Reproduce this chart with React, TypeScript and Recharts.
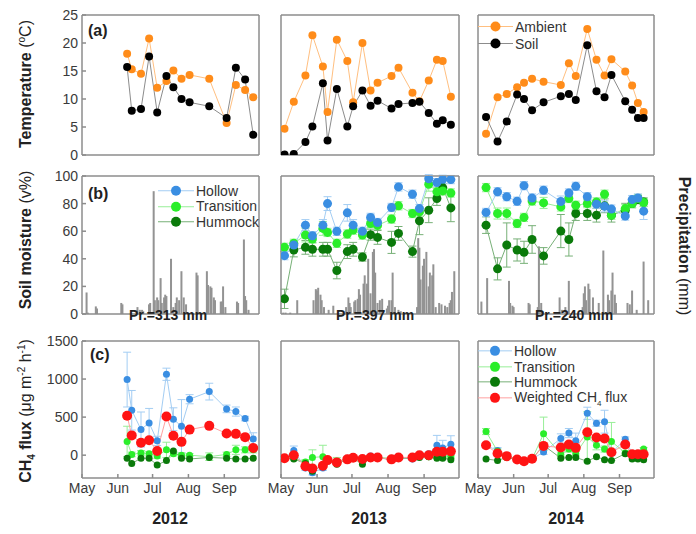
import React from 'react'
import { ComposedChart, Line, Bar, XAxis, YAxis, ErrorBar, Legend } from 'recharts'

const FONT = '"Liberation Sans", Arial, Helvetica, sans-serif'

// x values are days counted from 1 May
const monthTicks = [0, 31, 61, 92, 123]
const monthLabels = ['May', 'Jun', 'Jul', 'Aug', 'Sep']

const days2012 = [39, 43, 51, 58, 65, 73, 79, 86, 93, 110, 125, 133, 141, 148]
const days2013 = [3, 11, 21, 27, 36, 40, 48, 57, 62, 70, 77, 83, 95, 101, 113, 119, 127, 134, 139, 146]
const days2014 = [7, 17, 25, 34, 40, 47, 57, 72, 79, 85, 95, 103, 110, 116, 128, 134, 139, 144]

// (a) temperature
const ambient2012 = [18.1, 15.3, 14.5, 20.8, 12.0, 13.2, 15.1, 13.6, 14.3, 13.6, 5.7, 12.5, 11.6, 10.3]
const soil2012 = [15.7, 7.9, 8.2, 17.6, 7.6, 14.1, 12.1, 10.0, 9.4, 8.7, 6.6, 15.6, 13.5, 3.6]
const ambient2013 = [4.7, 9.5, 14.2, 21.4, 15.8, 7.7, 20.6, 16.8, 9.4, 20.0, 11.5, 12.9, 14.1, 15.6, 11.1, 9.6, 13.3, 17.0, 16.8, 10.4]
const soil2013 = [0.1, 0.2, 2.3, 5.1, 12.8, 2.6, 11.8, 5.1, 8.7, 11.5, 8.8, 9.7, 8.3, 9.1, 9.3, 9.5, 7.5, 5.6, 6.2, 5.4]
const ambient2014 = [3.8, 10.3, 10.9, 12.1, 12.9, 13.6, 13.1, 12.5, 16.4, 14.1, 22.5, 17.0, 14.2, 17.1, 14.9, 12.4, 9.3, 7.7]
const soil2014 = [6.8, 2.4, 6.0, 10.8, 10.0, 8.0, 9.4, 10.5, 10.9, 9.8, 19.6, 11.4, 10.3, 14.3, 9.6, 8.1, 6.6, 6.6]

// (b) soil moisture
const hollowSm2013 = [42.3, 50, 64.4, 56.7, 64.4, 80, 59.9, 73.3, 64.4, 59.9, 70, 66.3, 77.2, 92.1, 86.8, 76.4, 98, 95.2, 97.6, 97.4]
const hollowSmErr2013 = [3, 3, 4, 3, 4, 5, 3, 6, 4, 3, 3, 3, 3, 3, 3, 3, 3, 3, 3, 3]
const transSm2013 = [48.3, 51.2, 57.2, 54.3, 62, 59.1, 51.2, 57.9, 60.8, 57.2, 65.6, 64.2, 68.8, 78.4, 72.8, 74, 94, 88.5, 89.2, 87.7]
const transSmErr2013 = [3, 3, 5, 3, 5, 3, 3, 3, 3, 3, 3, 3, 3, 3, 3, 3, 5, 3, 3, 3]
const hummSm2013 = [11, 46.4, 48.3, 46.9, 46.9, 46.9, 31.5, 45.2, 46.9, 41.3, 57.5, 55.5, 51.9, 58.4, 45.2, 67.5, 75.2, 83.7, 91.6, 76.9]
const hummSmErr2013 = [7, 5, 5, 5, 5, 5, 6, 5, 5, 3, 4, 5, 8, 5, 4, 10, 9, 5, 3, 10]
const hollowSm2014 = [73.6, 88.5, 85, 81.7, 93, 84, 89.7, 81.5, 87.7, 92.5, 85, 79.6, 78, 76, 71, 82.9, 84, 74.5]
const hollowSmErr2014 = [3, 3, 3, 3, 3, 3, 3, 4, 3, 3, 3, 3, 4, 3, 3, 3, 3, 6]
const transSm2014 = [91.6, 72.8, 72.8, 65.6, 70, 81.9, 80.5, 77.6, 83.7, 78.8, 80, 81.2, 86.8, 71.6, 76.4, 80, 83.7, 80.8]
const transSmErr2014 = [3, 4, 4, 3, 3, 3, 4, 3, 3, 3, 3, 3, 3, 3, 3, 3, 3, 3]
const hummSm2014 = [64.4, 32.7, 50, 46.4, 44.7, 54, 42.1, 60.1, 54, 72.8, 72.8, 71.6, 78.4, 71.6, 75.2, 80, 82.9, 81.2]
const hummSmErr2014 = [6, 8, 16, 8, 8, 10, 6, 12, 12, 5, 5, 5, 5, 5, 5, 3, 3, 3]

// precipitation [day, mm]
const rain2012: [number, number][] = [
  [4, 15.6], [5, 1], [12, 5.5], [13, 4], [34, 8], [35, 7], [48, 5], [50, 3], [52, 3], [53, 2],
  [58, 7], [59, 8], [62, 89], [63, 10], [65, 12], [66, 10], [68, 26], [69, 8], [71, 12], [72, 14],
  [73, 13], [77, 40], [79, 5], [81, 8], [82, 12], [84, 10], [86, 31], [88, 12], [90, 7], [99, 30],
  [100, 28], [108, 31], [109, 21], [111, 20], [112, 19], [114, 12], [115, 10], [120, 9], [121, 9],
  [122, 20], [124, 5], [134, 9], [135, 8], [140, 54], [141, 13], [142, 10], [144, 3],
]
const rain2013: [number, number][] = [
  [2, 1], [4, 1], [8, 1], [14, 10], [28, 10], [30, 18], [31, 17], [32, 19], [34, 14], [35, 10],
  [37, 5], [41, 3], [45, 6], [56, 5], [58, 12], [59, 8], [60, 5], [63, 9], [64, 10], [66, 11],
  [67, 18], [68, 14], [71, 22], [72, 28], [74, 22], [75, 40], [77, 15], [79, 45], [80, 47], [81, 30],
  [83, 8], [85, 10], [87, 11], [91, 4], [92, 6], [93, 10], [95, 10], [96, 30], [98, 5], [101, 3],
  [103, 2], [117, 5], [118, 55], [119, 48], [120, 25], [122, 35], [123, 40], [125, 45], [127, 20],
  [128, 30], [130, 28], [131, 36], [133, 5], [136, 8], [138, 7], [141, 6], [143, 5], [145, 8],
  [146, 10], [147, 16], [149, 31],
]
const rain2014: [number, number][] = [
  [3, 9], [8, 26], [27, 24], [28, 8], [30, 6], [31, 5], [44, 8], [45, 7], [52, 5], [53, 49], [55, 8],
  [71, 12], [73, 3], [76, 5], [79, 24], [91, 5], [92, 15], [93, 20], [94, 10], [96, 22], [97, 18],
  [100, 12], [105, 8], [109, 46], [113, 14], [114, 10], [116, 17], [117, 30], [119, 14], [120, 8],
  [130, 8], [132, 7], [134, 17], [138, 3], [144, 38], [148, 10],
]

// (c) CH4 flux
const hollowF2012 = [993, 590, 337, 424, 188, 1063, 472, 380, 735, 835, 608, 573, 481, 214]
const hollowFErr2012 = [360, 260, 230, 190, 60, 80, 150, 350, 60, 110, 50, 60, 30, 80]
const transF2012 = [180, 10, 30, 20, -10, 70, 20, 0, 0, -20, 10, 70, 70, 70]
const transFErr2012 = [200, 30, 30, 30, 30, 100, 30, 30, 20, 50, 30, 60, 40, 40]
const hummF2012 = [-40, -110, -40, -40, -130, -70, 55, -40, -50, -30, -40, -50, -50, -40]
const weighted2012 = [517, 260, 163, 195, 55, 508, 255, 175, 336, 385, 285, 280, 237, 95]

const hollowF2013 = [-40, 60, -170, -230, -170, -80, -100, -40, -30, -40, -10, -30, -60, -30, -50, -10, 20, 130, 95, 145]
const hollowFErr2013 = [20, 60, 30, 30, 30, 20, 20, 20, 20, 20, 20, 20, 20, 20, 20, 20, 20, 130, 100, 110]
const transF2013 = [-40, -40, -90, -30, -20, -60, -80, -50, -30, -70, -30, -30, -40, -30, -30, -20, -20, -20, -10, -20]
const transFErr2013 = [20, 20, 30, 100, 150, 30, 50, 20, 20, 20, 20, 20, 20, 20, 20, 20, 20, 20, 20, 20]
const hummF2013 = [-40, -50, -110, -210, -130, -70, -120, -50, -40, -120, -40, -30, -60, -40, -40, -30, -20, -40, -40, -60]
const weighted2013 = [-40, 0, -145, -175, -140, -65, -95, -55, -35, -50, -30, -30, -55, -30, -30, 0, 0, 45, 45, 50]

const hollowF2014 = [130, 60, -10, -60, -80, -50, 40, 220, 290, 190, 550, 420, 440, 30, 210, 20, 20, 10]
const hollowFErr2014 = [30, 40, 20, 20, 20, 20, 30, 60, 60, 100, 80, 40, 150, 30, 30, 20, 20, 20]
const transF2014 = [310, 50, -10, -50, -80, -50, 280, 10, 80, 20, 240, 130, 80, 180, 30, 10, 10, 80]
const transFErr2014 = [40, 30, 20, 20, 20, 20, 220, 30, 40, 30, 330, 60, 40, 250, 30, 20, 20, 20]
const hummF2014 = [-50, -70, -30, -60, -80, -50, 130, -40, -30, -30, -80, -20, -60, -70, 20, -50, -50, -60]
const weighted2014 = [131, 22, -13, -57, -79, -48, 122, 100, 140, 96, 302, 232, 219, 39, 140, 13, 13, 13]

const C = {
  ambient: { dot: '#ff8c1a', line: '#ffbf80' },
  soil: { dot: '#000000', line: '#8c8c8c' },
  hollow: { dot: '#3a8ee2', line: '#a3cdf3' },
  trans: { dot: '#2aee2a', line: '#97ee97' },
  humm: { dot: '#0a7a0a', line: '#77b077' },
  weighted: { dot: '#ff1414', line: '#ffa0a0' },
}

type Series = { key: string; values: number[]; err?: number[]; dot: string; line: string; r: number }

function buildRows(days: number[], series: Series[], rain?: [number, number][]) {
  const rows: Record<string, number>[] = days.map((d, i) => {
    const row: Record<string, number> = { day: d }
    series.forEach(s => {
      row[s.key] = s.values[i]
      if (s.err) row[s.key + 'Err'] = s.err[i]
    })
    return row
  })
  if (rain) rain.forEach(([d, mm]) => rows.push({ day: d, rain: mm }))
  return rows.sort((a, b) => a.day - b.day)
}

const COLS = [{ left: 82, w: 177 }, { left: 281, w: 178 }, { left: 478, w: 176 }]
const ROWS = [{ top: 15, h: 140 }, { top: 176, h: 138 }, { top: 341, h: 137 }]
const AX = { stroke: '#8c8c8c', strokeWidth: 1.5 }
const TICK = { fontSize: 14, fill: '#3a3a3a', fontFamily: FONT }

// thin precipitation stick, centred on the bar slot recharts gives
const RainStick = (p: any) => (
  <rect x={p.x + p.width / 2 - 1} y={p.y} width={2} height={Math.max(p.height, 0)} fill="#939393" />
)

type LegendItem = { name: React.ReactNode; dot: string; line: string; r: number }

function LegendRows({ items, rowH, lineW }: { items: LegendItem[]; rowH: number; lineW: number }) {
  return (
    <div style={{ fontFamily: FONT, fontSize: 14, color: '#333' }}>
      {items.map((it, i) => (
        <div key={i} style={{ display: 'flex', alignItems: 'center', height: rowH }}>
          <svg width={lineW} height={rowH}>
            <line x1={0} x2={lineW} y1={rowH / 2} y2={rowH / 2} stroke={it.line} strokeWidth={1} />
            <circle cx={lineW / 2} cy={rowH / 2} r={it.r} fill={it.dot} />
          </svg>
          <span style={{ marginLeft: 2, whiteSpace: 'nowrap' }}>{it.name}</span>
        </div>
      ))}
    </div>
  )
}

function Panel({ col, row, rows, series, yDomain, yTicks, rain, legend }: {
  col: number; row: number; rows: Record<string, number>[]; series: Series[]
  yDomain: [number, number]; yTicks: number[]; rain?: boolean
  legend?: { items: LegendItem[]; left: number; top: number; rowH: number; lineW: number }
}) {
  const c = COLS[col]
  const r = ROWS[row]
  const W = c.w + 55
  const H = r.h + 40
  const showY = col === 0
  const showX = row === 2
  return (
    <div style={{ position: 'absolute', left: c.left - 50, top: r.top - 10 }}>
      <ComposedChart width={W} height={H} data={rows} margin={{ top: 9, right: 4, left: 0, bottom: 0 }}>
        <XAxis dataKey="day" type="number" domain={[0, 153]} ticks={monthTicks} height={30} allowDataOverflow
          tickFormatter={(v: number) => monthLabels[monthTicks.indexOf(v)]}
          tick={showX ? TICK : false} tickSize={-4} tickMargin={9} axisLine={AX} tickLine={AX} />
        <XAxis xAxisId="top" orientation="top" dataKey="day" type="number" domain={[0, 153]} ticks={monthTicks}
          allowDataOverflow height={1} tick={false} tickSize={-4} axisLine={AX} tickLine={AX} />
        <YAxis type="number" domain={yDomain} ticks={yTicks} width={50} interval={0} allowDataOverflow
          tick={showY ? TICK : false} tickSize={-4} tickMargin={8} axisLine={AX} tickLine={AX} />
        <YAxis yAxisId="right" orientation="right" type="number" domain={yDomain} ticks={yTicks} width={1}
          allowDataOverflow tick={false} tickSize={-4} axisLine={AX} tickLine={AX} />
        {rain && <Bar dataKey="rain" yAxisId="right" fill="#939393" barSize={2} shape={RainStick} isAnimationActive={false} />}
        {series.map(s => (
          <Line key={s.key} dataKey={s.key} connectNulls stroke={s.line} strokeWidth={1}
            dot={{ r: s.r, fill: s.dot, stroke: 'none' }} activeDot={false} isAnimationActive={false}>
            {s.err && <ErrorBar dataKey={s.key + 'Err'} width={4} stroke={s.line} strokeWidth={1} />}
          </Line>
        ))}
        {legend && (
          <Legend layout="vertical" align="center" verticalAlign="middle"
            wrapperStyle={{ left: legend.left, top: legend.top, width: 'auto' }}
            content={() => <LegendRows items={legend.items} rowH={legend.rowH} lineW={legend.lineW} />} />
        )}
      </ComposedChart>
    </div>
  )
}

const tempSeries = (amb: number[], soil: number[]): Series[] => [
  { key: 'ambient', values: amb, ...C.ambient, r: 4 },
  { key: 'soil', values: soil, ...C.soil, r: 4 },
]

const smSeries = (h: number[], he: number[], t: number[], te: number[], m: number[], me: number[]): Series[] => [
  { key: 'humm', values: m, err: me, ...C.humm, r: 4.5 },
  { key: 'trans', values: t, err: te, ...C.trans, r: 4.5 },
  { key: 'hollow', values: h, err: he, ...C.hollow, r: 4.5 },
]

const fluxSeries = (h: number[], he: number[], t: number[], te: number[], m: number[], w: number[]): Series[] => [
  { key: 'hollow', values: h, err: he, ...C.hollow, r: 3.5 },
  { key: 'trans', values: t, err: te, ...C.trans, r: 3.5 },
  { key: 'humm', values: m, ...C.humm, r: 3.5 },
  { key: 'weighted', values: w, ...C.weighted, r: 5 },
]

const siteItems: LegendItem[] = [
  { name: 'Hollow', ...C.hollow, r: 5 },
  { name: 'Transition', ...C.trans, r: 5 },
  { name: 'Hummock', ...C.humm, r: 5 },
]

export default function App() {
  const tS12 = tempSeries(ambient2012, soil2012)
  const tS13 = tempSeries(ambient2013, soil2013)
  const tS14 = tempSeries(ambient2014, soil2014)
  const mS13 = smSeries(hollowSm2013, hollowSmErr2013, transSm2013, transSmErr2013, hummSm2013, hummSmErr2013)
  const mS14 = smSeries(hollowSm2014, hollowSmErr2014, transSm2014, transSmErr2014, hummSm2014, hummSmErr2014)
  const fS12 = fluxSeries(hollowF2012, hollowFErr2012, transF2012, transFErr2012, hummF2012, weighted2012)
  const fS13 = fluxSeries(hollowF2013, hollowFErr2013, transF2013, transFErr2013, hummF2013, weighted2013)
  const fS14 = fluxSeries(hollowF2014, hollowFErr2014, transF2014, transFErr2014, hummF2014, weighted2014)

  const tTicks = [0, 5, 10, 15, 20, 25]
  const mTicks = [0, 20, 40, 60, 80, 100]
  const fTicks = [0, 500, 1000, 1500]

  const title = { fontFamily: FONT, fontSize: 16, fill: '#222' }

  return (
    <div style={{ position: 'absolute', left: 0, top: 0, width: 696, height: 534, background: '#fff', fontFamily: FONT }}>
      <Panel col={0} row={0} rows={buildRows(days2012, tS12)} series={tS12} yDomain={[0, 25]} yTicks={tTicks} />
      <Panel col={1} row={0} rows={buildRows(days2013, tS13)} series={tS13} yDomain={[0, 25]} yTicks={tTicks} />
      <Panel col={2} row={0} rows={buildRows(days2014, tS14)} series={tS14} yDomain={[0, 25]} yTicks={tTicks}
        legend={{ items: [{ name: 'Ambient', ...C.ambient, r: 5 }, { name: 'Soil', ...C.soil, r: 5 }], left: 50, top: 13, rowH: 17, lineW: 35 }} />

      <Panel col={0} row={1} rows={buildRows([], [], rain2012)} series={[]} yDomain={[0, 100]} yTicks={mTicks} rain
        legend={{ items: siteItems, left: 126, top: 17, rowH: 15.5, lineW: 36 }} />
      <Panel col={1} row={1} rows={buildRows(days2013, mS13, rain2013)} series={mS13} yDomain={[0, 100]} yTicks={mTicks} rain />
      <Panel col={2} row={1} rows={buildRows(days2014, mS14, rain2014)} series={mS14} yDomain={[0, 100]} yTicks={mTicks} rain />

      <Panel col={0} row={2} rows={buildRows(days2012, fS12)} series={fS12} yDomain={[-300, 1500]} yTicks={fTicks} />
      <Panel col={1} row={2} rows={buildRows(days2013, fS13)} series={fS13} yDomain={[-300, 1500]} yTicks={fTicks} />
      <Panel col={2} row={2} rows={buildRows(days2014, fS14)} series={fS14} yDomain={[-300, 1500]} yTicks={fTicks}
        legend={{
          items: [...siteItems, { name: <>Weighted CH<sub style={{ fontSize: 8 }}>4</sub> flux</>, ...C.weighted, r: 5 }],
          left: 50, top: 12, rowH: 15.7, lineW: 34,
        }} />

      <svg width={696} height={534} style={{ position: 'absolute', left: 0, top: 0, pointerEvents: 'none' }}>
        <text x={88} y={36} {...title} fontWeight="bold">(a)</text>
        <text x={88} y={199} {...title} fontWeight="bold">(b)</text>
        <text x={90} y={360} {...title} fontWeight="bold">(c)</text>

        <text transform="translate(31,84) rotate(-90)" textAnchor="middle" {...title}>
          <tspan fontWeight="bold">Temperature</tspan>
          <tspan> (</tspan>
          <tspan fontSize={10} dy={-6}>o</tspan>
          <tspan dy={6}>C)</tspan>
        </text>
        <text transform="translate(31,240) rotate(-90)" textAnchor="middle" {...title}>
          <tspan fontWeight="bold">Soil moisture</tspan>
          <tspan> (v%)</tspan>
        </text>
        <text transform="translate(31,411) rotate(-90)" textAnchor="middle" {...title}>
          <tspan fontWeight="bold">CH</tspan>
          <tspan fontWeight="bold" fontSize={10} dy={4}>4</tspan>
          <tspan fontWeight="bold" dy={-4}> flux</tspan>
          <tspan> (μg m</tspan>
          <tspan fontSize={10} dy={-6}>-2</tspan>
          <tspan dy={6}> h</tspan>
          <tspan fontSize={10} dy={-6}>-1</tspan>
          <tspan dy={6}>)</tspan>
        </text>
        <text transform="translate(679,246) rotate(90)" textAnchor="middle" {...title}>
          <tspan fontWeight="bold">Precipitation</tspan>
          <tspan> (mm)</tspan>
        </text>

        <text x={168} y={320} textAnchor="middle" {...title} fontSize={14} fontWeight="bold">Pr.=313 mm</text>
        <text x={375} y={320} textAnchor="middle" {...title} fontSize={14} fontWeight="bold">Pr.=397 mm</text>
        <text x={574} y={320} textAnchor="middle" {...title} fontSize={14} fontWeight="bold">Pr.=240 mm</text>

        <text x={170} y={524} textAnchor="middle" {...title} fontWeight="bold">2012</text>
        <text x={369} y={524} textAnchor="middle" {...title} fontWeight="bold">2013</text>
        <text x={566} y={524} textAnchor="middle" {...title} fontWeight="bold">2014</text>
      </svg>
    </div>
  )
}
